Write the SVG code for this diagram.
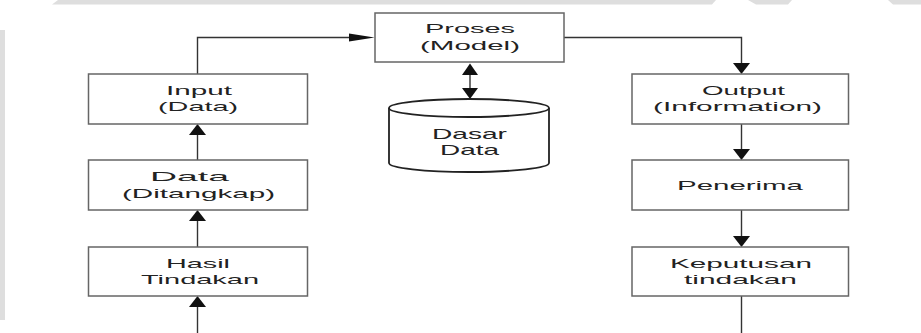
<svg xmlns="http://www.w3.org/2000/svg" width="921" height="333" viewBox="0 0 921 333">
  <style>
    .box { fill: #ffffff; stroke: #666666; stroke-width: 1.5; }
    .line { fill: none; stroke: #333333; stroke-width: 1.4; }
    .head { fill: #111111; stroke: none; }
    .db { fill: #ffffff; stroke: #222222; stroke-width: 1.8; }
    .lbl { font-family: "Liberation Sans", Arial, sans-serif; font-size: 13.5px; fill: #222222; }
    .dbl { font-family: "Liberation Sans", Arial, sans-serif; font-size: 14.5px; fill: #222222; }
    .wm { fill: #dedede; }
  </style>

  <rect width="921" height="333" fill="#ffffff"/>

  <!-- faint background marks along the edges -->
  <g id="background-marks">
    <polygon class="wm" points="58,0 716,0 712,4.5 52,4.5"/>
    <polygon class="wm" points="748,0 792,0 788,4.5 756,4.5"/>
    <polygon class="wm" points="888,0 921,0 921,4.5 893,4.5"/>
    <rect class="wm" x="0" y="30" width="5" height="290"/>
  </g>

  <!-- connectors -->
  <g id="connectors">
    <path class="line" d="M197.5,74 V37.5 H350"/>
    <polygon class="head" points="349,33.5 374.5,37.5 349,41.5"/>

    <path class="line" d="M564,37.5 H741.5 V63"/>
    <polygon class="head" points="733,63 750,63 741.5,74"/>

    <path class="line" d="M741.5,124 V149"/>
    <polygon class="head" points="733,149 750,149 741.5,160"/>

    <path class="line" d="M741.5,210 V236"/>
    <polygon class="head" points="733,236 750,236 741.5,247"/>

    <path class="line" d="M741.5,296 V333"/>

    <path class="line" d="M197.5,333 V307"/>
    <polygon class="head" points="189,307 206,307 197.5,296"/>

    <path class="line" d="M197.5,247 V221"/>
    <polygon class="head" points="189,221 206,221 197.5,210"/>

    <path class="line" d="M197.5,160 V135"/>
    <polygon class="head" points="189,135 206,135 197.5,124"/>

    <path class="line" d="M470,75 V88"/>
    <polygon class="head" points="462,75 478,75 470,63.5"/>
    <polygon class="head" points="462,88 478,88 470,99"/>
  </g>

  <g id="proses">
    <rect class="box" x="375" y="13" width="189" height="49"/>
    <text class="lbl" x="425" y="33" textLength="90" lengthAdjust="spacingAndGlyphs">Proses</text>
    <text class="lbl" x="420" y="50" textLength="100" lengthAdjust="spacingAndGlyphs">(Model)</text>
  </g>

  <g id="dasar-data">
    <path class="db" d="M389,108 V163 A80,9 0 0 0 549,163 V108"/>
    <ellipse class="db" cx="469" cy="108" rx="80" ry="9"/>
    <text class="dbl" x="432" y="138.5" textLength="75" lengthAdjust="spacingAndGlyphs">Dasar</text>
    <text class="dbl" x="440" y="155" textLength="59" lengthAdjust="spacingAndGlyphs">Data</text>
  </g>

  <g id="input">
    <rect class="box" x="88.5" y="74" width="219" height="50"/>
    <text class="lbl" x="166" y="95" textLength="66" lengthAdjust="spacingAndGlyphs">Input</text>
    <text class="lbl" x="158" y="111" textLength="80" lengthAdjust="spacingAndGlyphs">(Data)</text>
  </g>

  <g id="data-ditangkap">
    <rect class="box" x="88.5" y="160" width="219" height="50"/>
    <text class="lbl" x="150" y="181" textLength="79" lengthAdjust="spacingAndGlyphs">Data</text>
    <text class="lbl" x="122" y="198" textLength="153" lengthAdjust="spacingAndGlyphs">(Ditangkap)</text>
  </g>

  <g id="hasil-tindakan">
    <rect class="box" x="88.5" y="247" width="219" height="49"/>
    <text class="lbl" x="166" y="268" textLength="64" lengthAdjust="spacingAndGlyphs">Hasil</text>
    <text class="lbl" x="141" y="284" textLength="118" lengthAdjust="spacingAndGlyphs">Tindakan</text>
  </g>

  <g id="output">
    <rect class="box" x="632" y="74" width="216.5" height="50"/>
    <text class="lbl" x="702" y="95" textLength="83" lengthAdjust="spacingAndGlyphs">Output</text>
    <text class="lbl" x="653" y="111" textLength="169" lengthAdjust="spacingAndGlyphs">(Information)</text>
  </g>

  <g id="penerima">
    <rect class="box" x="632" y="160" width="216.5" height="50"/>
    <text class="lbl" x="677" y="190" textLength="126" lengthAdjust="spacingAndGlyphs">Penerima</text>
  </g>

  <g id="keputusan-tindakan">
    <rect class="box" x="632" y="247" width="216.5" height="49"/>
    <text class="lbl" x="670" y="268" textLength="142" lengthAdjust="spacingAndGlyphs">Keputusan</text>
    <text class="lbl" x="684" y="284" textLength="113" lengthAdjust="spacingAndGlyphs">tindakan</text>
  </g>
</svg>
